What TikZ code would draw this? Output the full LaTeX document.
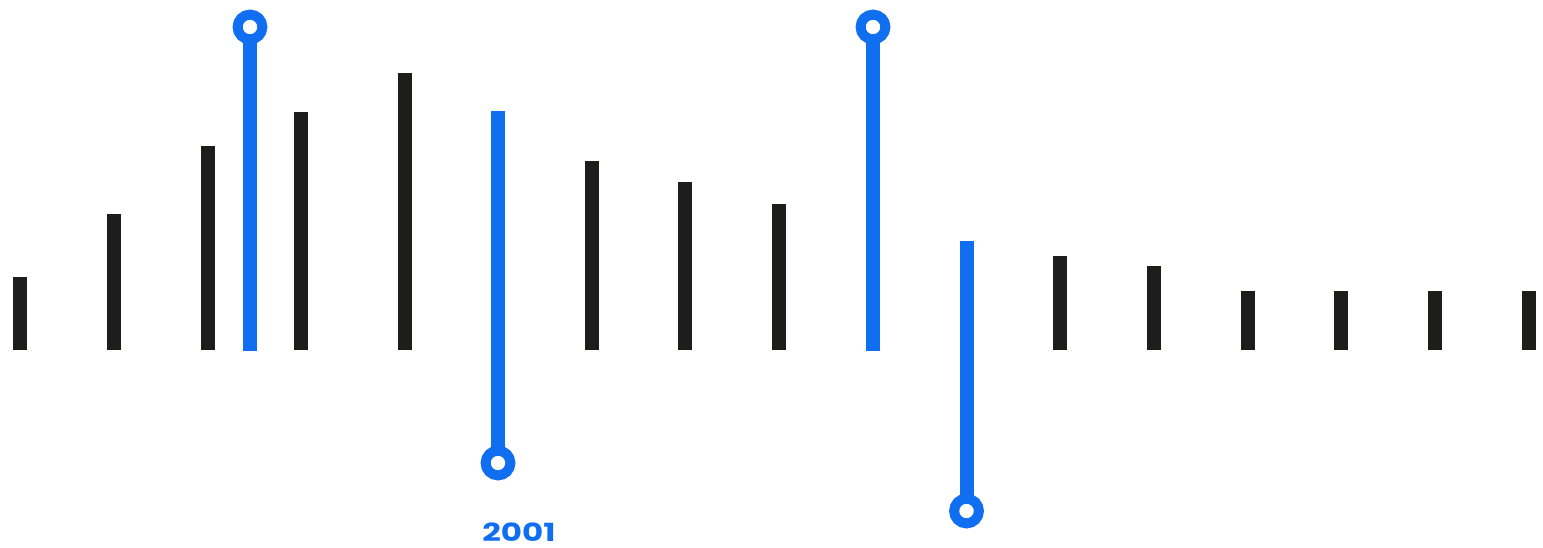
\documentclass[tikz,border=0pt]{standalone}
\usepackage{fontspec}
\newfontfamily\yearfont{Poppins}
\definecolor{BarBlack}{HTML}{1D1D1B}
\definecolor{MarkBlue}{HTML}{0F6FF0}

\tikzset{
  bar/.style={line width=14, color=BarBlack},
  markbar/.style={line width=14, color=MarkBlue},
  ring/.style={line width=10, color=MarkBlue},
}

\begin{document}
\begin{tikzpicture}[x={(1pt,0pt)}, y={(0pt,-1pt)}]

 \useasboundingbox (0,0) rectangle (1543,548);

 %%%%%%%%%% Black bars %%%%%%%%%%
 \foreach \x/\t in {20/277, 114/214, 207.5/146, 301/112, 404.5/73, 591.5/161,
                    685/182, 779/204, 1060/256, 1153.5/266, 1247.5/291,
                    1341/291, 1435/291, 1529/291}
 {
   \draw [bar] (\x,350) -- (\x,\t) ;
 }

 %%%%%%%%%% Blue markers %%%%%%%%%%
 \coordinate (m1) at (250,27);
 \coordinate (m2) at (498,463);
 \coordinate (m3) at (873,27);
 \coordinate (m4) at (966.5,511);

 % up
 \draw [markbar] (250,351) -- ([yshift=-12pt]m1) ;
 \draw [ring] (m1) circle (12.4) ;
 \draw [markbar] (873,351) -- ([yshift=-12pt]m3) ;
 \draw [ring] (m3) circle (12.4) ;

 % down
 \draw [markbar] (498,111) -- ([yshift=12pt]m2) ;
 \draw [ring] (m2) circle (12.4) ;
 \draw [markbar] (966.5,241) -- ([yshift=12pt]m4) ;
 \draw [ring] (m4) circle (12.4) ;

 \node [anchor=base, text=MarkBlue, font=\yearfont\bfseries\fontsize{25}{25}\selectfont, inner sep=0, xscale=1.3] (year) at (519,541) {2001} ;

\end{tikzpicture}
\end{document}
